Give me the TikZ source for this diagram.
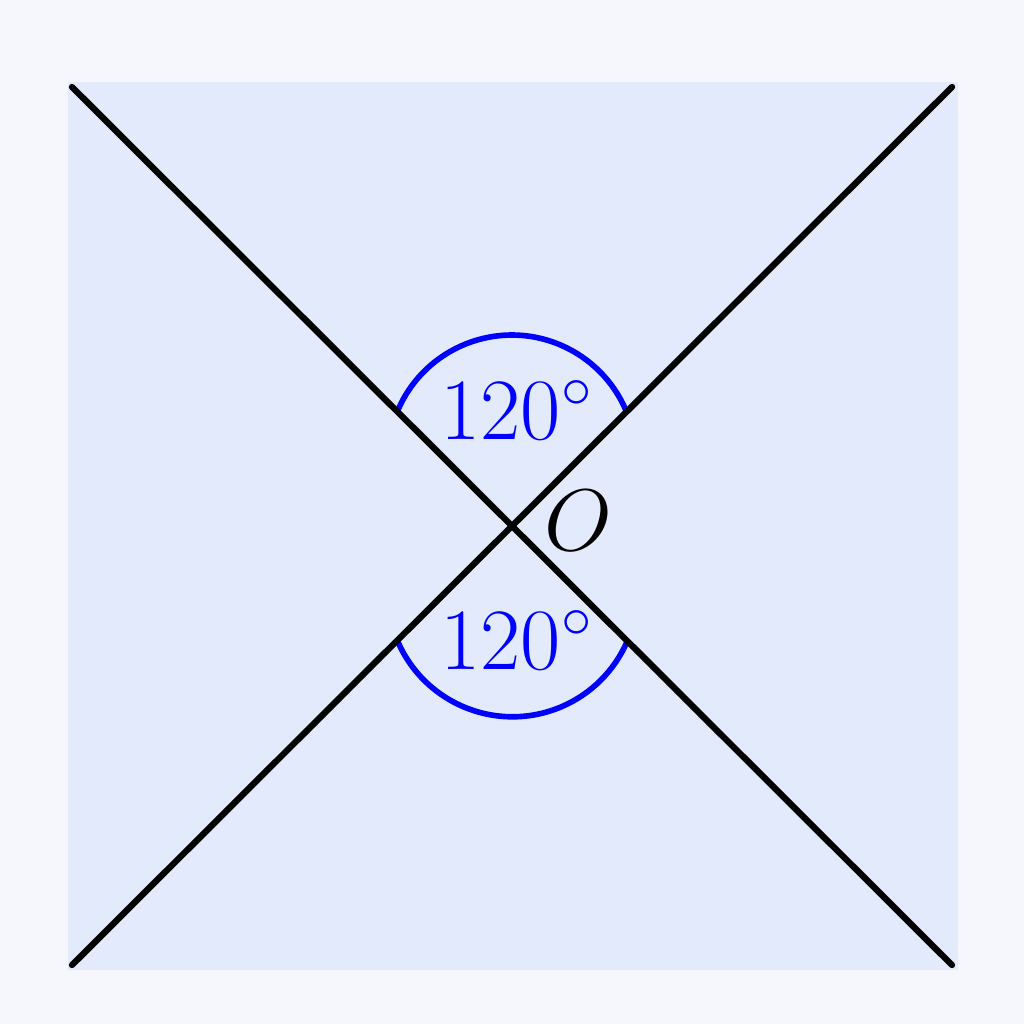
\documentclass[tikz,border=0pt]{standalone}
\usepackage{tikz}
\usetikzlibrary{positioning}
\definecolor{pagebg}{RGB}{245,247,253}
\definecolor{panelbg}{RGB}{227,234,251}
\begin{document}
\begin{tikzpicture}[x=0.01cm,y=-0.01cm]
            \tikzstyle{axisline}=[line width=1.8pt,black,line cap=round]
            \tikzstyle{anglearc}=[line width=1.6pt,blue]
            \tikzstyle{anglelabel}=[blue,font=\fontsize{24.5}{28}\selectfont,inner sep=0pt]

            \fill[pagebg] (0,0) rectangle (1024,1024);
            \useasboundingbox (0,0) rectangle (1024,1024);
            \fill[panelbg] (68,82) rectangle (958,970);

            \coordinate (O) at (512,526);
            \coordinate (tl) at (72,87);
            \coordinate (tr) at (952,87);
            \coordinate (bl) at (72,965);
            \coordinate (br) at (952,965);

            % angle arcs
            \draw[anglearc] (398,410) arc[start angle=-156.7,end angle=-23.3,radius=124];
            \draw[anglearc] (398,642) arc[start angle=156.3,end angle=23.7,radius=125];

            \draw[axisline] (tl) -- (br);
            \draw[axisline] (bl) -- (tr);

            \node[anglelabel] (upper) at (517,410) {$120^\circ$};
            \node[anglelabel] (lower) at (517,640) {$120^\circ$};
            \node[anglelabel,black] (olabel) at (578,521) {$O$};
\end{tikzpicture}
\end{document}
